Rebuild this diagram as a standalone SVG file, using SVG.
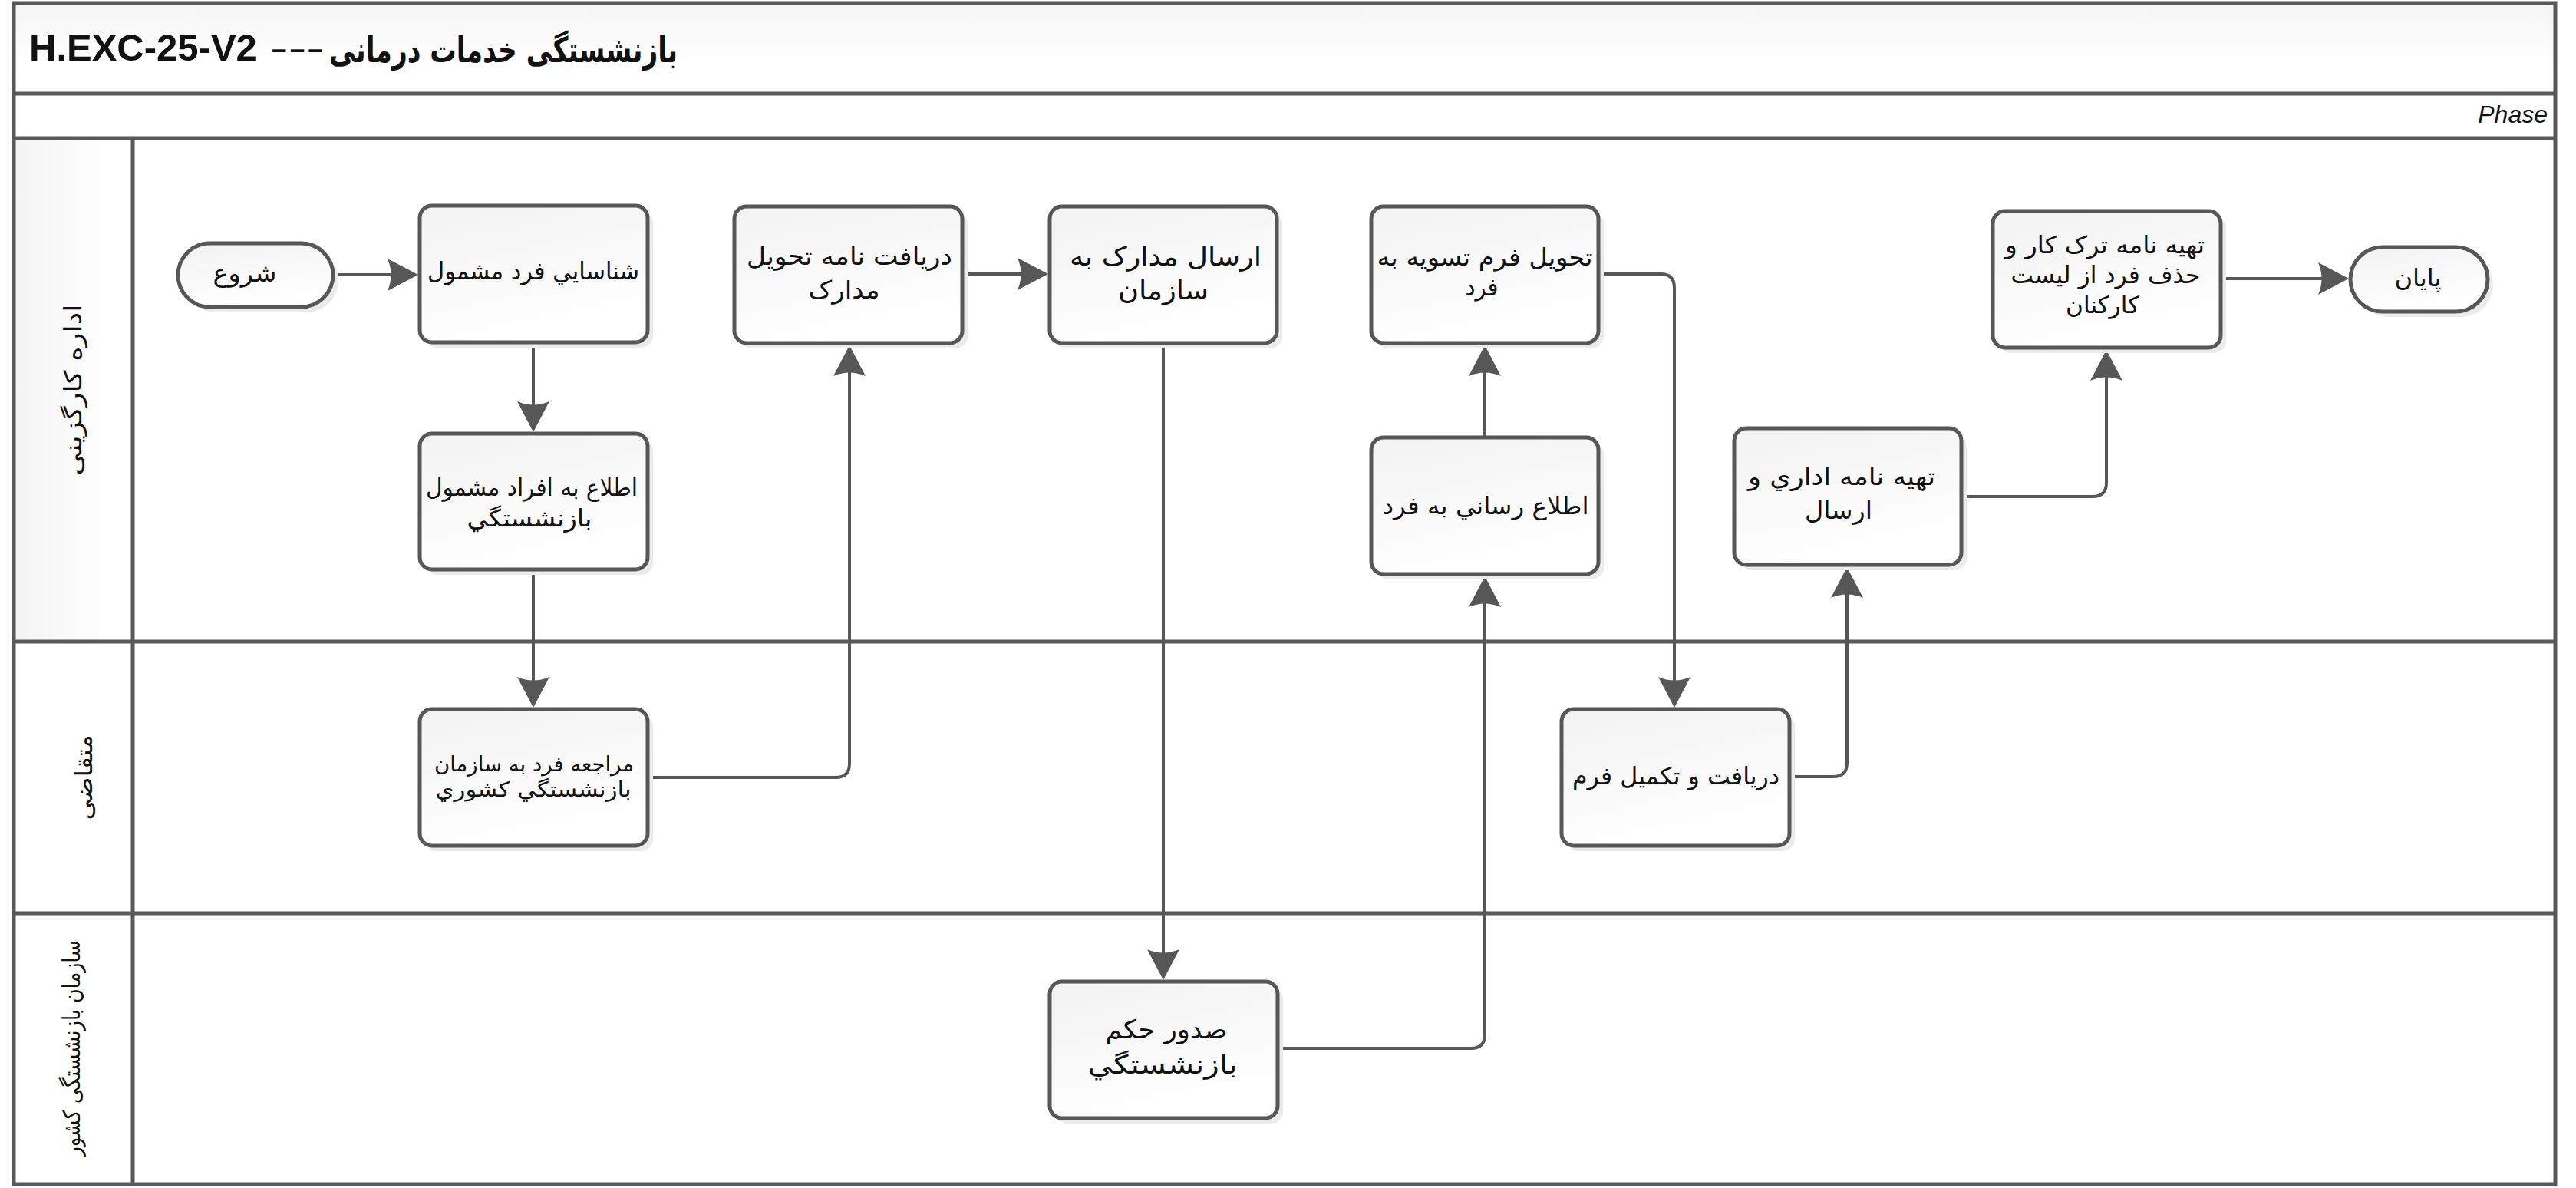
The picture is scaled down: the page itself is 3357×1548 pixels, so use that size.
<svg xmlns="http://www.w3.org/2000/svg" width="3357" height="1548" viewBox="0 0 3357 1548">
<defs>
<style>
.frame{fill:none;stroke:#595959;stroke-width:5}
.sep{stroke:#595959;stroke-width:5}
.shadow{fill:#ebebeb}
.box{fill:url(#gBox);stroke:#575757;stroke-width:5}
.conn{fill:none;stroke:#575757;stroke-width:4;marker-end:url(#arrow)}
.t{font-family:"DejaVu Sans","Noto Sans",sans-serif;fill:#111;text-anchor:middle}
.lane{font-family:"DejaVu Sans","Noto Sans",sans-serif;fill:#111;text-anchor:middle;font-size:31px}
</style>
<linearGradient id="gBox" x1="0" y1="0" x2="0.35" y2="1">
<stop offset="0" stop-color="#f2f2f2"/>
<stop offset="1" stop-color="#ffffff"/>
</linearGradient>
<linearGradient id="gTitle" x1="0" y1="0" x2="0" y2="1">
<stop offset="0" stop-color="#f5f5f5"/>
<stop offset="0.7" stop-color="#ffffff"/>
</linearGradient>
<linearGradient id="gHead" x1="0" y1="0" x2="1" y2="0">
<stop offset="0" stop-color="#f3f3f3"/>
<stop offset="0.8" stop-color="#ffffff"/>
</linearGradient>
<marker id="arrow" markerUnits="userSpaceOnUse" viewBox="0 0 40 42" markerWidth="40" markerHeight="42" refX="30" refY="21" orient="auto">
<path d="M0,0 L40,21 L0,42 Q9,21 0,0 Z" fill="#575757"/>
</marker>
</defs>

<g id="pool">
<rect x="18" y="4" width="3312" height="118" fill="url(#gTitle)"/>
<rect x="18" y="180" width="155" height="656" fill="url(#gHead)"/>
<rect class="frame" x="18" y="4" width="3312" height="1539"/>
<line class="sep" x1="18" y1="122" x2="3330" y2="122"/>
<line class="sep" x1="18" y1="180" x2="3330" y2="180"/>
<line class="sep" x1="173" y1="180" x2="173" y2="1543"/>
<line class="sep" x1="18" y1="836" x2="3330" y2="836"/>
<line class="sep" x1="18" y1="1190" x2="3330" y2="1190"/>
<text x="38" y="79" font-family="'Liberation Sans',Arial,sans-serif" font-weight="bold" font-size="49" fill="#111">H.EXC-25-V2</text>
<text x="352" y="79" font-family="'Liberation Sans',Arial,sans-serif" font-size="49" fill="#111" textLength="71" lengthAdjust="spacingAndGlyphs">---</text>
<text x="656" y="81" font-family="'DejaVu Sans',sans-serif" font-weight="bold" font-size="46" fill="#111" text-anchor="middle" textLength="454" lengthAdjust="spacingAndGlyphs">بازنشستگی خدمات درمانی</text>
<text x="3320" y="160" font-family="'Liberation Sans',Arial,sans-serif" font-style="italic" font-size="32" fill="#111" text-anchor="end">Phase</text>
<text class="lane" transform="translate(106,508) rotate(-90)" textLength="223" lengthAdjust="spacingAndGlyphs">اداره کارگزینی</text>
<text class="lane" transform="translate(120,1013) rotate(-90)" font-size="29" textLength="111" lengthAdjust="spacingAndGlyphs">متقاضی</text>
<text class="lane" transform="translate(104,1366) rotate(-90)" font-size="28" textLength="281" lengthAdjust="spacingAndGlyphs">سازمان بازنشستگی کشور</text>
</g>

<g id="connectors">
<path class="conn" d="M434,358 H535"/>
<path class="conn" d="M695,446 V553"/>
<path class="conn" d="M695,742 V912"/>
<path class="conn" d="M845,1013 H1089 Q1107,1013 1107,995 V460"/>
<path class="conn" d="M1254,357 H1356"/>
<path class="conn" d="M1516,447 V1267"/>
<path class="conn" d="M1665,1366 H1917 Q1935,1366 1935,1348 V761"/>
<path class="conn" d="M1935,570 V460"/>
<path class="conn" d="M2083,357 H2164 Q2182,357 2182,375 V912"/>
<path class="conn" d="M2332,1012 H2389 Q2407,1012 2407,994 V749"/>
<path class="conn" d="M2556,647 H2727 Q2745,647 2745,629 V466"/>
<path class="conn" d="M2894,363 H3051"/>
</g>

<g id="start">
<rect class="shadow" x="239" y="324" width="202" height="83" rx="41.5"/>
<rect class="box" x="232" y="317" width="202" height="83" rx="41.5"/>
<text class="t" x="319" y="367" font-size="32" textLength="83" lengthAdjust="spacingAndGlyphs">شروع</text>
</g>

<g id="n2">
<rect class="shadow" x="554" y="275" width="297" height="178" rx="16"/>
<rect class="box" x="547" y="268" width="297" height="178" rx="16"/>
<text class="t" x="695" y="364" font-size="31" textLength="276" lengthAdjust="spacingAndGlyphs">شناسايي فرد مشمول</text>
</g>

<g id="n3">
<rect class="shadow" x="554" y="572" width="297" height="177" rx="16"/>
<rect class="box" x="547" y="565" width="297" height="177" rx="16"/>
<text class="t" x="693" y="646" font-size="31" textLength="276" lengthAdjust="spacingAndGlyphs">اطلاع به افراد مشمول</text>
<text class="t" x="690" y="686" font-size="31" textLength="163" lengthAdjust="spacingAndGlyphs">بازنشستگي</text>
</g>

<g id="n4">
<rect class="shadow" x="554" y="931" width="297" height="178" rx="16"/>
<rect class="box" x="547" y="924" width="297" height="178" rx="16"/>
<text class="t" x="696" y="1005" font-size="27" textLength="260" lengthAdjust="spacingAndGlyphs">مراجعه فرد به سازمان</text>
<text class="t" x="695" y="1038" font-size="27" textLength="255" lengthAdjust="spacingAndGlyphs">بازنشستگي كشوري</text>
</g>

<g id="n5">
<rect class="shadow" x="964" y="276" width="297" height="178" rx="16"/>
<rect class="box" x="957" y="269" width="297" height="178" rx="16"/>
<text class="t" x="1107" y="345" font-size="32" textLength="268" lengthAdjust="spacingAndGlyphs">دريافت نامه تحويل</text>
<text class="t" x="1100" y="389" font-size="32" textLength="93" lengthAdjust="spacingAndGlyphs">مدارک</text>
</g>

<g id="n6">
<rect class="shadow" x="1375" y="276" width="296" height="178" rx="16"/>
<rect class="box" x="1368" y="269" width="296" height="178" rx="16"/>
<text class="t" x="1519" y="346" font-size="34" textLength="250" lengthAdjust="spacingAndGlyphs">ارسال مدارک به</text>
<text class="t" x="1516" y="390" font-size="34" textLength="118" lengthAdjust="spacingAndGlyphs">سازمان</text>
</g>

<g id="n7">
<rect class="shadow" x="1375" y="1286" width="297" height="178" rx="16"/>
<rect class="box" x="1368" y="1279" width="297" height="178" rx="16"/>
<text class="t" x="1520" y="1353" font-size="34" textLength="159" lengthAdjust="spacingAndGlyphs">صدور حكم</text>
<text class="t" x="1515" y="1399" font-size="34" textLength="195" lengthAdjust="spacingAndGlyphs">بازنشستگي</text>
</g>

<g id="n8">
<rect class="shadow" x="1794" y="276" width="296" height="178" rx="16"/>
<rect class="box" x="1787" y="269" width="296" height="178" rx="16"/>
<text class="t" x="1935" y="346" font-size="31" textLength="281" lengthAdjust="spacingAndGlyphs">تحويل فرم تسويه به</text>
<text class="t" x="1931" y="385" font-size="31" textLength="43" lengthAdjust="spacingAndGlyphs">فرد</text>
</g>

<g id="n9">
<rect class="shadow" x="1794" y="577" width="296" height="178" rx="16"/>
<rect class="box" x="1787" y="570" width="296" height="178" rx="16"/>
<text class="t" x="1936" y="670" font-size="31" textLength="269" lengthAdjust="spacingAndGlyphs">اطلاع رساني به فرد</text>
</g>

<g id="n10">
<rect class="shadow" x="2042" y="931" width="297" height="178" rx="16"/>
<rect class="box" x="2035" y="924" width="297" height="178" rx="16"/>
<text class="t" x="2184" y="1022" font-size="31" textLength="270" lengthAdjust="spacingAndGlyphs">دريافت و تكميل فرم</text>
</g>

<g id="n11">
<rect class="shadow" x="2267" y="565" width="296" height="178" rx="16"/>
<rect class="box" x="2260" y="558" width="296" height="178" rx="16"/>
<text class="t" x="2400" y="632" font-size="32" textLength="244" lengthAdjust="spacingAndGlyphs">تهيه نامه اداري و</text>
<text class="t" x="2396" y="676" font-size="32" textLength="88" lengthAdjust="spacingAndGlyphs">ارسال</text>
</g>

<g id="n12">
<rect class="shadow" x="2604" y="282" width="297" height="178" rx="16"/>
<rect class="box" x="2597" y="275" width="297" height="178" rx="16"/>
<text class="t" x="2743" y="330" font-size="31" textLength="260" lengthAdjust="spacingAndGlyphs">تهيه نامه ترک کار و</text>
<text class="t" x="2744" y="369" font-size="31" textLength="247" lengthAdjust="spacingAndGlyphs">حذف فرد از ليست</text>
<text class="t" x="2740" y="408" font-size="31" textLength="96" lengthAdjust="spacingAndGlyphs">کارکنان</text>
</g>

<g id="end">
<rect class="shadow" x="3070" y="329" width="179" height="84" rx="42"/>
<rect class="box" x="3063" y="322" width="179" height="84" rx="42"/>
<text class="t" x="3151" y="373" font-size="32" textLength="61" lengthAdjust="spacingAndGlyphs">پايان</text>
</g>
</svg>
